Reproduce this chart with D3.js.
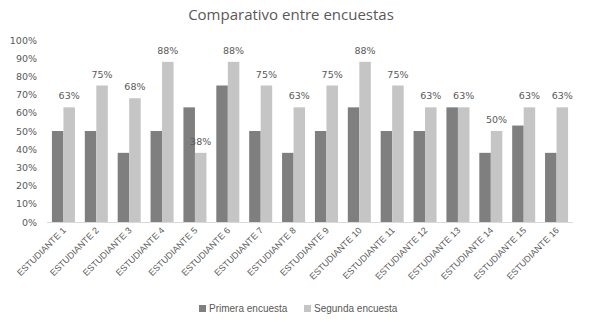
<!DOCTYPE html>
<html><head><meta charset="utf-8">
<script src="https://cdn.jsdelivr.net/npm/d3@7"></script>
<style>body{margin:0;background:#fff}svg{display:block}</style>
</head><body>
<script>
const categories = ["ESTUDIANTE 1","ESTUDIANTE 2","ESTUDIANTE 3","ESTUDIANTE 4","ESTUDIANTE 5","ESTUDIANTE 6","ESTUDIANTE 7","ESTUDIANTE 8","ESTUDIANTE 9","ESTUDIANTE 10","ESTUDIANTE 11","ESTUDIANTE 12","ESTUDIANTE 13","ESTUDIANTE 14","ESTUDIANTE 15","ESTUDIANTE 16"];
const primera = [50,50,38,50,63,75,50,38,50,63,50,50,63,38,53,38];
const segunda = [63,75,68,88,38,88,75,63,75,88,75,63,63,50,63,63];
const seriesNames = ["Primera encuesta","Segunda encuesta"];
const yTicks = [0,10,20,30,40,50,60,70,80,90,100];

const W = 589, H = 324;
const m = {left:47, right:16, top:40, bottom:102};
const svg = d3.select("body").append("svg").attr("width",W).attr("height",H);
const x = d3.scaleBand().domain(categories).range([m.left, W-m.right]).paddingInner(0.3).paddingOuter(0.15);
const x1 = d3.scaleBand().domain(seriesNames).range([0, x.bandwidth()]);
const y = d3.scaleLinear().domain([0,100]).range([H-m.bottom, m.top]);
const colors = ["#7f7f7f","#c5c5c5"];
const txt = "#595959";

svg.append("text").attr("x",291).attr("y",20).attr("text-anchor","middle")
  .attr("font-family","Open Sans").attr("font-size",15).attr("fill",txt)
  .text("Comparativo entre encuestas");

// y axis labels
svg.append("g").selectAll("text").data(yTicks).join("text")
  .attr("x",37).attr("y",d=>y(d)+3.5).attr("text-anchor","end")
  .attr("font-family","DejaVu Sans").attr("font-size",9.5).attr("fill",txt)
  .text(d=>d+"%");

// baseline
svg.append("line").attr("x1",m.left).attr("x2",W-m.right).attr("y1",y(0)+0.5).attr("y2",y(0)+0.5)
  .attr("stroke","#d9d9d9");

const data = categories.map((c,i)=>({c, vals:[primera[i], segunda[i]]}));
const g = svg.append("g").selectAll("g").data(data).join("g").attr("transform",d=>`translate(${x(d.c)},0)`);
g.selectAll("rect").data(d=>d.vals.map((v,j)=>({v,j}))).join("rect")
  .attr("x",d=>x1(seriesNames[d.j])).attr("width",x1.bandwidth())
  .attr("y",d=>y(d.v)).attr("height",d=>y(0)-y(d.v)).attr("fill",d=>colors[d.j]);

// data labels on second series
g.append("text").attr("x",d=>x1(seriesNames[1])+x1.bandwidth()/2).attr("y",d=>y(d.vals[1])-8)
  .attr("text-anchor","middle").attr("font-family","DejaVu Sans").attr("font-size",9.5).attr("fill",txt)
  .text(d=>d.vals[1]+"%");

// x labels
svg.append("g").selectAll("text").data(categories).join("text")
  .attr("transform",d=>`translate(${x(d)+x.bandwidth()/2+3},${y(0)+9}) rotate(-45)`)
  .attr("text-anchor","end").attr("font-family","Liberation Sans").attr("font-size",9).attr("fill",txt)
  .text(d=>d);

// legend
const leg = [{name:seriesNames[0], x:199, c:colors[0]},{name:seriesNames[1], x:304, c:colors[1]}];
const lg = svg.append("g").selectAll("g").data(leg).join("g");
lg.append("rect").attr("x",d=>d.x).attr("y",305).attr("width",7).attr("height",7).attr("fill",d=>d.c);
lg.append("text").attr("x",d=>d.x+10).attr("y",312).attr("font-family","Liberation Sans").attr("font-size",10).attr("fill",txt).text(d=>d.name);
</script>
</body></html>
